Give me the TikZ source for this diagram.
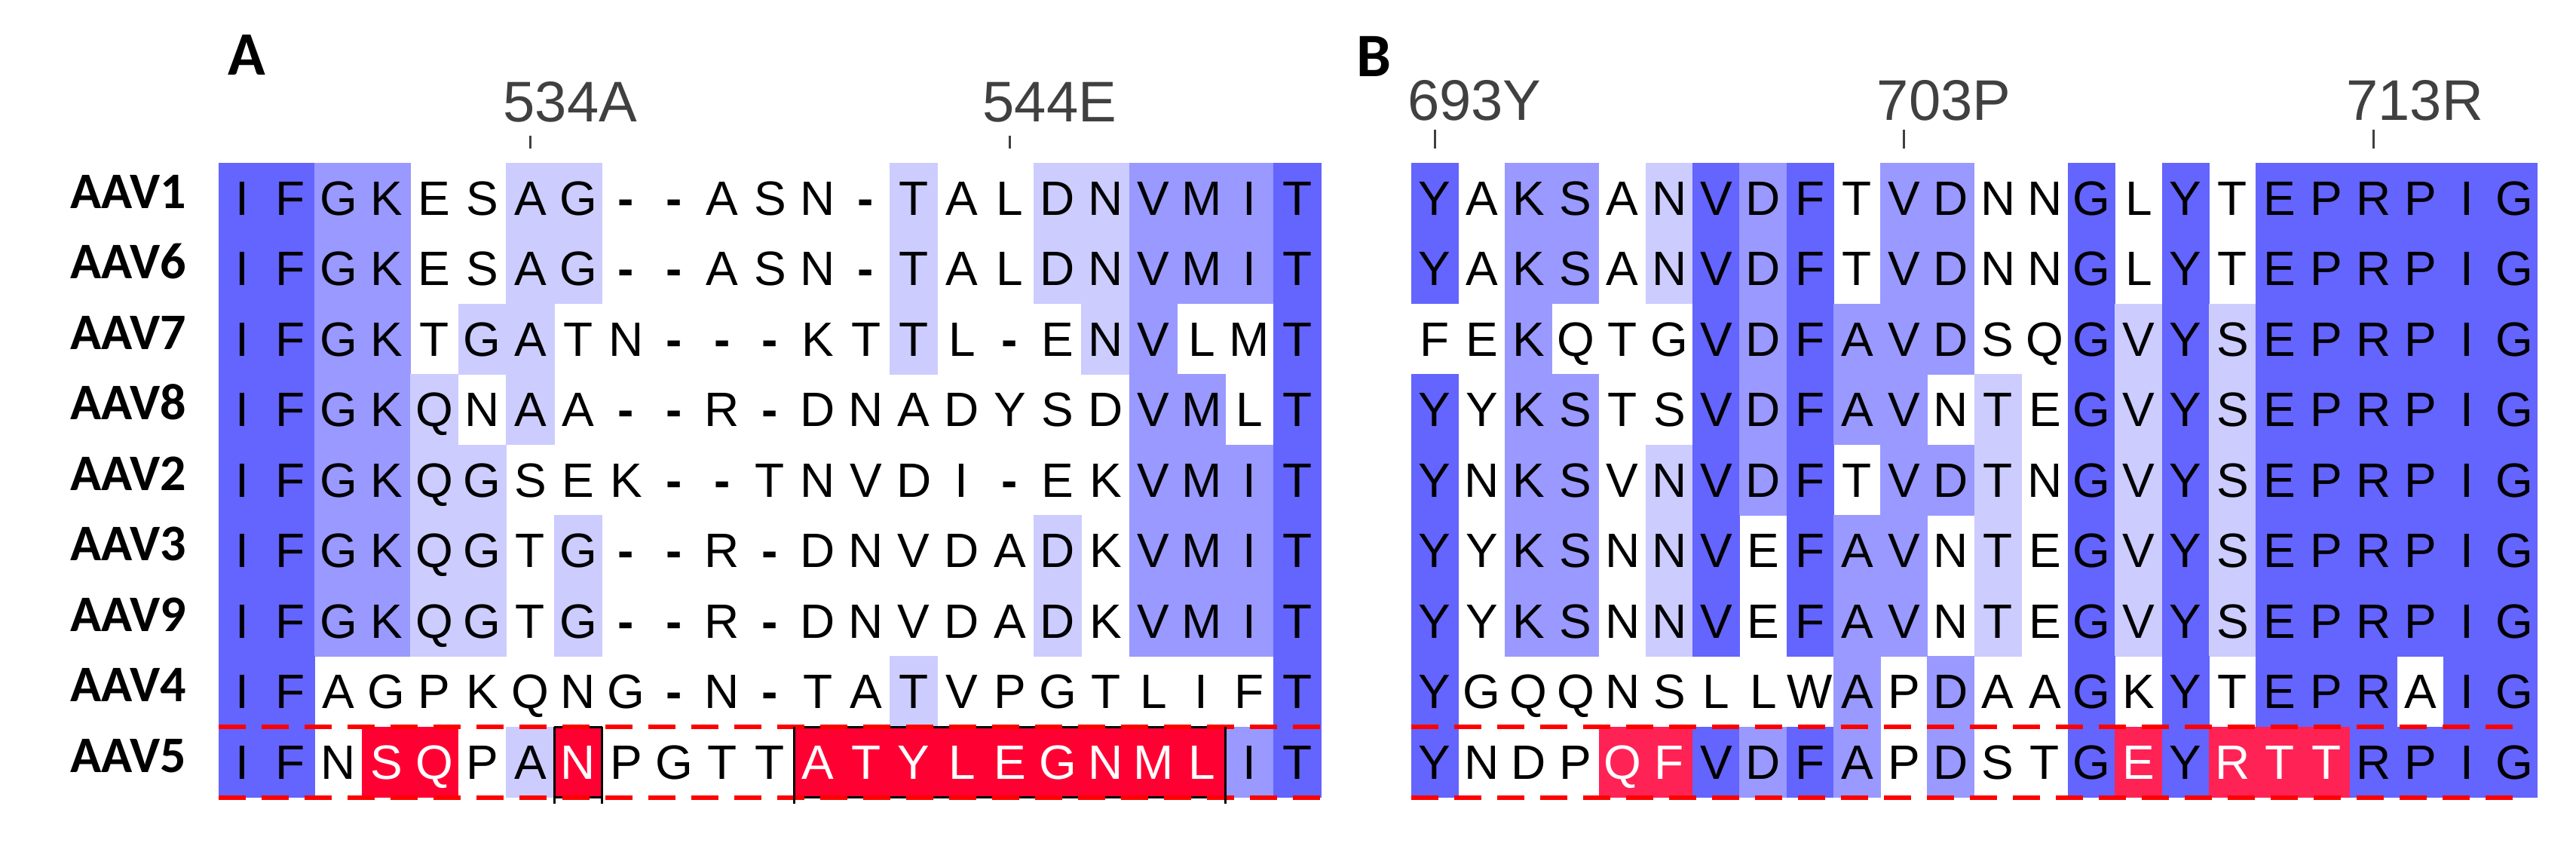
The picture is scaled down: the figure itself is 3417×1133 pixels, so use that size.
\documentclass[tikz,border=0pt]{standalone}
\usepackage{fontspec}
\setmainfont{Liberation Sans}
\newfontfamily\seqfont{Liberation Sans}
\newfontfamily\lblfont{Carlito}
\definecolor{pidhigh}{RGB}{100,100,255}
\definecolor{pidmid}{RGB}{153,153,255}
\definecolor{pidlow}{RGB}{204,204,255}
\definecolor{redA}{RGB}{255,0,51}
\definecolor{redB}{RGB}{255,34,85}
\definecolor{dashred}{RGB}{255,0,0}
\tikzset{
  seqtxt/.style={anchor=base, inner sep=0pt, font=\seqfont\fontsize{64}{64}\selectfont},
  gaptxt/.style={anchor=base, inner sep=0pt, font=\seqfont\bfseries\fontsize{64}{64}\selectfont},
  rowlbl/.style={anchor=base west, inner sep=0pt, font=\lblfont\bfseries\fontsize{68}{68}\selectfont},
  panellbl/.style={anchor=base west, inner sep=0pt, font=\lblfont\bfseries\fontsize{82}{82}\selectfont},
  poslbl/.style={anchor=base west, inner sep=0pt, text=black!75, font=\seqfont\fontsize{76}{76}\selectfont},
  tickmark/.style={draw=black!75, line width=3pt},
  reddash/.style={draw=dashred, line width=6pt, dash pattern=on 36pt off 21pt},
  boxline/.style={draw=black, line width=3pt},
}
\def\ytop{216}
\def\rh{93.5}
\newcommand\drawcell[4]{%
  \pgfmathsetmacro\cx{\xo+\cw*#1}%
  \pgfmathsetmacro\ry{\ytop+\rh*#4}%
  \ifcase#3\relax \def\cellcol{white}\or \def\cellcol{pidlow}\or \def\cellcol{pidmid}\or \def\cellcol{pidhigh}\or \def\cellcol{\redcol}\fi
  \ifnum#3>0 \fill[fill=\cellcol] (\cx-0.4,\ry-0.4) rectangle (\cx+\cw+0.4,\ry+\rh+0.4);\fi
  \ifnum#3=4 \def\txtcol{white}\else\def\txtcol{black}\fi
  \if-#2%
    \node[gaptxt,text=\txtcol] (\pn-#4-#1) at (\cx+\cw/2,\ry+69) {-};%
  \else
    \node[seqtxt,text=\txtcol] (\pn-#4-#1) at (\cx+\cw/2,\ry+69) {#2};%
  \fi
}
\ExplSyntaxOn
\NewDocumentCommand \alnrow { m m m }
  {
    \int_step_inline:nn { \str_count:n {#2} }
      {
        \use:e { \exp_not:N \drawcell { \int_eval:n { ##1 - 1 } } { \str_item:nn {#2} {##1} } { \str_item:nn {#3} {##1} } {#1} }
      }
  }
\ExplSyntaxOff
\begin{document}
\begin{tikzpicture}[x=1pt,y=-1pt]
\useasboundingbox (0,0) rectangle (3417,1133);
\fill[white] (0,0) rectangle (3417,1133);
% ---------------- Panel A ----------------
\def\xo{290}\def\cw{63.6}\def\redcol{redA}\def\pn{A}
\alnrow{0}{IFGKESAG--ASN-TALDNVMIT}{33220011000000100112223}
\alnrow{1}{IFGKESAG--ASN-TALDNVMIT}{33220011000000100112223}
\alnrow{2}{IFGKTGATN---KTTL-ENVLMT}{33220110000000100012003}
\alnrow{3}{IFGKQNAA--R-DNADYSDVMLT}{33221010000000000002203}
\alnrow{4}{IFGKQGSEK--TNVDI-EKVMIT}{33221100000000000002223}
\alnrow{5}{IFGKQGTG--R-DNVDADKVMIT}{33221101000000000102223}
\alnrow{6}{IFGKQGTG--R-DNVDADKVMIT}{33221101000000000102223}
\alnrow{7}{IFAGPKQNG-N-TATVPGTLIFT}{33000000000000100000003}
\alnrow{8}{IFNSQPANPGTTATYLEGNMLIT}{33044014000044444444423}
% boxes around AAV5 insertions
\draw[boxline] (735.2,964) -- (798.8,964);
\draw[boxline] (735.2,1057.5) -- (798.8,1057.5);
\draw[boxline] (1053.2,964) -- (1625.6,964);
\draw[boxline] (1053.2,1057.5) -- (1625.6,1057.5);
\draw[reddash] (290,964) -- (1758,964);
\draw[reddash] (290,1057.5) -- (1758,1057.5);
\draw[boxline] (735.2,964) -- (735.2,1066);
\draw[boxline] (798.8,964) -- (798.8,1066);
\draw[boxline] (1053.2,964) -- (1053.2,1066);
\draw[boxline] (1625.6,964) -- (1625.6,1066);
% labels
\node[panellbl] (pA) at (302,99) {A};
\node[poslbl] (p534) at (667.4,161) {534A};
\node[poslbl] (p544) at (1303.4,161) {544E};
\draw[tickmark] (703.4,180) -- (703.4,197);
\draw[tickmark] (1339.4,180) -- (1339.4,197);
\foreach \lab [count=\r from 0] in {AAV1,AAV6,AAV7,AAV8,AAV2,AAV3,AAV9,AAV4,AAV5}{
  \node[rowlbl] (lab\r) at (93,276+\rh*\r) {\lab};
}
% ---------------- Panel B ----------------
\def\xo{1872}\def\cw{62.25}\def\redcol{redB}\def\pn{B}
\alnrow{0}{YAKSANVDFTVDNNGLYTEPRPIG}{302201323022003030333333}
\alnrow{1}{YAKSANVDFTVDNNGLYTEPRPIG}{302201323022003030333333}
\alnrow{2}{FEKQTGVDFAVDSQGVYSEPRPIG}{002000323222003131333333}
\alnrow{3}{YYKSTSVDFAVNTEGVYSEPRPIG}{302200323220103131333333}
\alnrow{4}{YNKSVNVDFTVDTNGVYSEPRPIG}{302201323022103131333333}
\alnrow{5}{YYKSNNVEFAVNTEGVYSEPRPIG}{302201303220103131333333}
\alnrow{6}{YYKSNNVEFAVNTEGVYSEPRPIG}{302201303220103131333333}
\alnrow{7}{YGQQNSLLWAPDAAGKYTEPRAIG}{300000000202003030333033}
\alnrow{8}{YNDPQFVDFAPDSTGEYRTTRPIG}{300044323202003434443333}
\draw[reddash] (1872,964) -- (3350,964);
\draw[reddash] (1872,1057.5) -- (3350,1057.5);
\node[panellbl] (pB) at (1799,101) {B};
\node[poslbl] (p693) at (1867,159) {693Y};
\node[poslbl] (p703) at (2489.6,159) {703P};
\node[poslbl] (p713) at (3112,159) {713R};
\draw[tickmark] (1903.1,172) -- (1903.1,197);
\draw[tickmark] (2525.6,172) -- (2525.6,197);
\draw[tickmark] (3148.1,172) -- (3148.1,197);
\end{tikzpicture}
\end{document}
